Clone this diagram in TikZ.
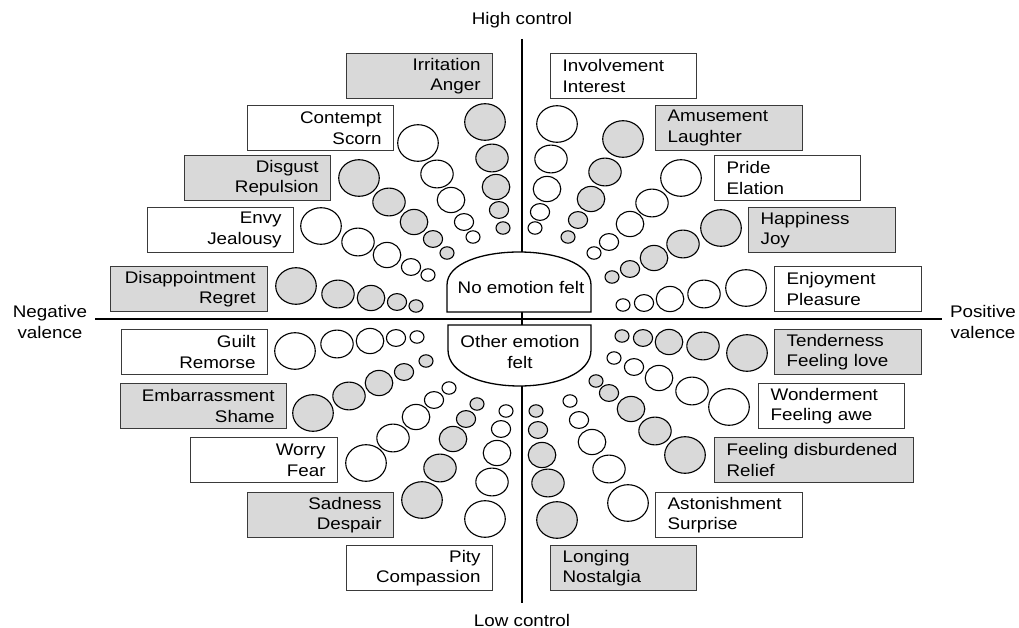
\documentclass[tikz,border=0pt]{standalone}
\usepackage{fontspec}
\setmainfont{Liberation Sans}[FakeStretch=1.12]

\definecolor{boxgray}{HTML}{D9D9D9}
\definecolor{edgegray}{HTML}{3A3A3A}

% five shrinking bubbles along one spoke
\newcommand{\emospoke}[2]{%
  \foreach \cx/\cy [count=\idx from 0] in {#2}{%
    \pgfmathsetmacro{\rx}{{20.3,16.2,13.8,9.6,7.0}[\idx]}%
    \pgfmathsetmacro{\ry}{{18.3,13.9,12.6,8.4,6.2}[\idx]}%
    \draw[#1] (\cx,\cy) ellipse [x radius=\rx pt, y radius=\ry pt];}}

\begin{document}
\begin{tikzpicture}[
  x=1pt, y=-1pt,
  emofont/.style={font=\fontsize{16.8}{20.7}\selectfont},
  graybox/.style={rectangle, draw=edgegray, fill=boxgray, line width=1.2pt,
                  emofont, minimum height=45pt, inner xsep=12pt, inner ysep=0pt},
  whitebox/.style={graybox, fill=white},
  leftbox/.style={anchor=north west, align=right, text width=#1-24pt},
  rightbox/.style={anchor=north west, align=left, text width=#1-24pt},
  graydot/.style={draw=black, fill=boxgray, line width=1.1pt},
  whitedot/.style={draw=black, fill=white, line width=1.1pt},
  axis/.style={draw=black, line width=1.8pt},
  centre/.style={draw=black, fill=white, line width=1.3pt},
  lbl/.style={emofont, inner sep=0pt},
]
\useasboundingbox (0,0) rectangle (1019,628);

% ── Axes ───────────────────────────────────────────────────────────────
\coordinate (top)    at (522,39);
\coordinate (bottom) at (522,603);
\coordinate (left)   at (95,319);
\coordinate (right)  at (942,319);
\draw[axis] (top) -- (bottom);
\draw[axis] (left) -- (right);

\node[lbl, anchor=base] (highctl) at (522,25)  {High control};
\node[lbl, anchor=base] (lowctl)  at (522,626) {Low control};
\node[lbl, align=center] (negval) at (50,322)  {Negative\\valence};
\node[lbl, align=center] (posval) at (983,322) {Positive\\valence};

% ── Centre: no emotion / other emotion ────────────────────────────────
\draw[centre] (447,312) -- (447,285) .. controls (447,241) and (591,241) .. (591,285)
  -- (591,312) -- cycle;
\node[lbl, anchor=base] (noemo) at (521,293) {No emotion felt};
\draw[centre] (448,325) -- (591,325) -- (591,350) .. controls (591,398) and (448,398) .. (448,350)
  -- cycle;
\node[lbl, align=center] (otheremo) at (520,352) {Other emotion\\felt};

% ── Upper left quadrant ───────────────────────────────────────────────
\node[graybox,  leftbox=146pt] (irritation)     at (346,53)  {Irritation\\Anger};
\node[whitebox, leftbox=146pt] (contempt)       at (247,105) {Contempt\\Scorn};
\node[graybox,  leftbox=146pt] (disgust)        at (184,155) {Disgust\\Repulsion};
\node[whitebox, leftbox=146pt] (envy)           at (147,207) {Envy\\Jealousy};
\node[graybox,  leftbox=157pt] (disappointment) at (110,266) {Disappointment\\Regret};

\emospoke{graydot}{485/122,492/158,496/187,499/210,503/228}
\emospoke{whitedot}{418/143,437/174,451/200,464/222,473/237}
\emospoke{graydot}{359/178,389/202,414/222,433/239,447/253}
\emospoke{whitedot}{321/226,358/242,387/255,411/267,428/275}
\emospoke{graydot}{296/286,338/294,371/298,397/302,416/306}

% ── Upper right quadrant ──────────────────────────────────────────────
\node[whitebox, rightbox=146pt] (involvement) at (550,53)  {Involvement\\Interest};
\node[graybox,  rightbox=147pt] (amusement)   at (655,105) {Amusement\\Laughter};
\node[whitebox, rightbox=146pt] (pride)       at (714,155) {Pride\\Elation};
\node[graybox,  rightbox=147pt] (happiness)   at (748,207) {Happiness\\Joy};
\node[whitebox, rightbox=147pt] (enjoyment)   at (774,266) {Enjoyment\\Pleasure};

\emospoke{whitedot}{557/124,551/159,547/189,540/212,535/228}
\emospoke{graydot}{623/139,605/172,591/199,578/220,568/237}
\emospoke{whitedot}{681/178,652/203,630/224,609/242,594/253}
\emospoke{graydot}{721/228,683/244,654/258,630/269,612/277}
\emospoke{whitedot}{746/288,704/294,670/299,644/303,623/305}

% ── Lower left quadrant ───────────────────────────────────────────────
\node[whitebox, leftbox=146pt] (guilt)         at (121,329) {Guilt\\Remorse};
\node[graybox,  leftbox=166pt] (embarrassment) at (120,383) {Embarrassment\\Shame};
\node[whitebox, leftbox=147pt] (worry)         at (190,437) {Worry\\Fear};
\node[graybox,  leftbox=146pt] (sadness)       at (247,492) {Sadness\\Despair};
\node[whitebox, leftbox=146pt] (pity)          at (346,545) {Pity\\Compassion};

\emospoke{whitedot}{295/351,337/344,370/341,396/338,417/337}
\emospoke{graydot}{313/413,349/396,379/383,404/372,426/361}
\emospoke{whitedot}{366/463,393/438,416/417,434/400,449/388}
\emospoke{graydot}{422/500,440/468,453/439,466/419,477/404}
\emospoke{whitedot}{485/519,492/482,497/453,501/429,506/411}

% ── Lower right quadrant ──────────────────────────────────────────────
\node[graybox,  rightbox=147pt] (tenderness)   at (774,329) {Tenderness\\Feeling love};
\node[whitebox, rightbox=146pt] (wonderment)   at (758,383) {Wonderment\\Feeling awe};
\node[graybox,  rightbox=199pt] (disburdened)  at (714,437) {Feeling disburdened\\Relief};
\node[whitebox, rightbox=147pt] (astonishment) at (655,492) {Astonishment\\Surprise};
\node[graybox,  rightbox=146pt] (longing)      at (550,545) {Longing\\Nostalgia};

\emospoke{graydot}{747/353,703/346,669/342,643/338,622/336}
\emospoke{whitedot}{729/407,692/391,659/378,634/367,614/358}
\emospoke{graydot}{685/455,655/431,631/409,609/393,596/381}
\emospoke{whitedot}{628/503,609/469,592/442,579/420,570/401}
\emospoke{graydot}{557/520,548/483,542/455,538/430,536/411}

\end{tikzpicture}
\end{document}
